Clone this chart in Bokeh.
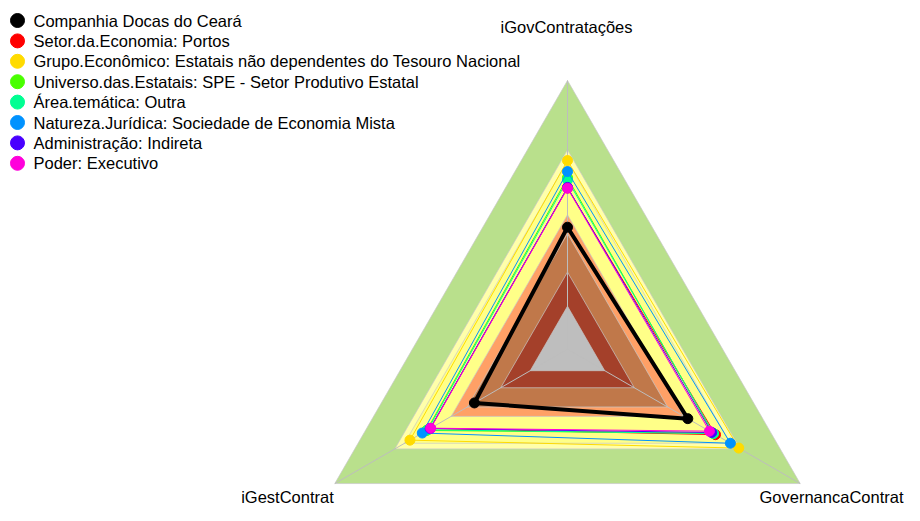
import math
from bokeh.plotting import figure
from bokeh.models import Range1d
from bokeh.core.properties import value
from bokeh.embed import file_html
from bokeh.resources import INLINE

# ---------------- data ----------------
axes_labels = ["iGovContratações", "iGestContrat", "GovernancaContrat"]

series_names = [
    "Companhia Docas do Ceará",
    "Setor.da.Economia: Portos",
    "Grupo.Econômico: Estatais não dependentes do Tesouro Nacional",
    "Universo.das.Estatais: SPE - Setor Produtivo Estatal",
    "Área.temática: Outra",
    "Natureza.Jurídica: Sociedade de Economia Mista",
    "Administração: Indireta",
    "Poder: Executivo",
]
series_colors = ["#000000", "#FF0000", "#FFDB00", "#49FF00", "#00FF92",
                 "#0092FF", "#4900FF", "#FF00DB"]

# values per axis: iGovContratações, iGestContrat, GovernancaContrat
docas = [0.454, 0.400, 0.517]
portos = [0.600, 0.590, 0.636]
grupo = [0.702, 0.677, 0.736]
universo = [0.638, 0.605, 0.625]
area = [0.630, 0.600, 0.628]
natureza = [0.661, 0.624, 0.700]
administracao = [0.602, 0.590, 0.620]
poder = [0.599, 0.588, 0.610]
series_values = [docas, portos, grupo, universo, area, natureza, administracao, poder]

# background bands (outer limits, from outside in)
band_limits = [1.0, 0.742, 0.700, 0.500, 0.430, 0.287, 0.160]
band_colors = ["#B9E08C", "#FFFFAA", "#FFFF88", "#FFA066", "#C0784A", "#A4402A", "#BEBEBE"]

# ---------------- layout ----------------
W, H = 904, 505
CXl, CYl = 567.0, 348.7   # centre of radar in plot pixels
R = 268.7                 # pixels per unit radius

def px2x(px):
    return (px - CXl) / R

def py2y(py):
    return (CYl - py) / R

angles = [math.radians(a) for a in (90, 210, 330)]

def poly(vals):
    xs = [v * math.cos(a) for v, a in zip(vals, angles)]
    ys = [v * math.sin(a) for v, a in zip(vals, angles)]
    return xs, ys

p = figure(width=W, height=H, output_backend="svg", toolbar_location=None,
           x_range=Range1d(px2x(0), px2x(W)), y_range=Range1d(py2y(H), py2y(0)),
           x_axis_location=None, y_axis_location=None, min_border=0)
p.outline_line_color = None
p.grid.visible = False
p.background_fill_color = "white"

# bands
for lim, col in zip(band_limits, band_colors):
    xs, ys = poly([lim] * 3)
    p.patch(xs, ys, fill_color=col, line_color="#C8C8C8", line_width=1, line_alpha=0.7)

# spokes
for a in angles:
    p.line([0, math.cos(a)], [0, math.sin(a)], line_color="#BDBDBD", line_width=1)

# series
for vals, col in zip(series_values, series_colors):
    xs, ys = poly(vals)
    lw = 4 if col == "#000000" else 1
    p.line(xs + xs[:1], ys + ys[:1], line_color=col, line_width=lw)
    p.scatter(xs, ys, size=10, fill_color=col, line_color=col)

font = value("Liberation Sans")

# axis labels
label_px = [(566, 26, "center"), (287, 496, "center"), (903, 496, "right")]
for (lx, ly, al), txt in zip(label_px, axes_labels):
    p.text(x=[px2x(lx)], y=[py2y(ly)], text=[txt], text_font=font,
           text_font_size="16.5px", text_align=al, text_baseline="middle",
           text_color="#000000")

# legend
leg_x_dot = 17
leg_x_txt = 33
leg_y0 = 20
leg_dy = 20.4
for i, (name, col) in enumerate(zip(series_names, series_colors)):
    yy = py2y(leg_y0 + i * leg_dy)
    p.scatter([px2x(leg_x_dot)], [yy], size=14, fill_color=col, line_color=col)
    p.text(x=[px2x(leg_x_txt)], y=[yy], text=[name], text_font=font,
           text_font_size="16.5px", text_align="left", text_baseline="middle",
           text_color="#000000")

open("out.html", "w").write(file_html(p, INLINE))
